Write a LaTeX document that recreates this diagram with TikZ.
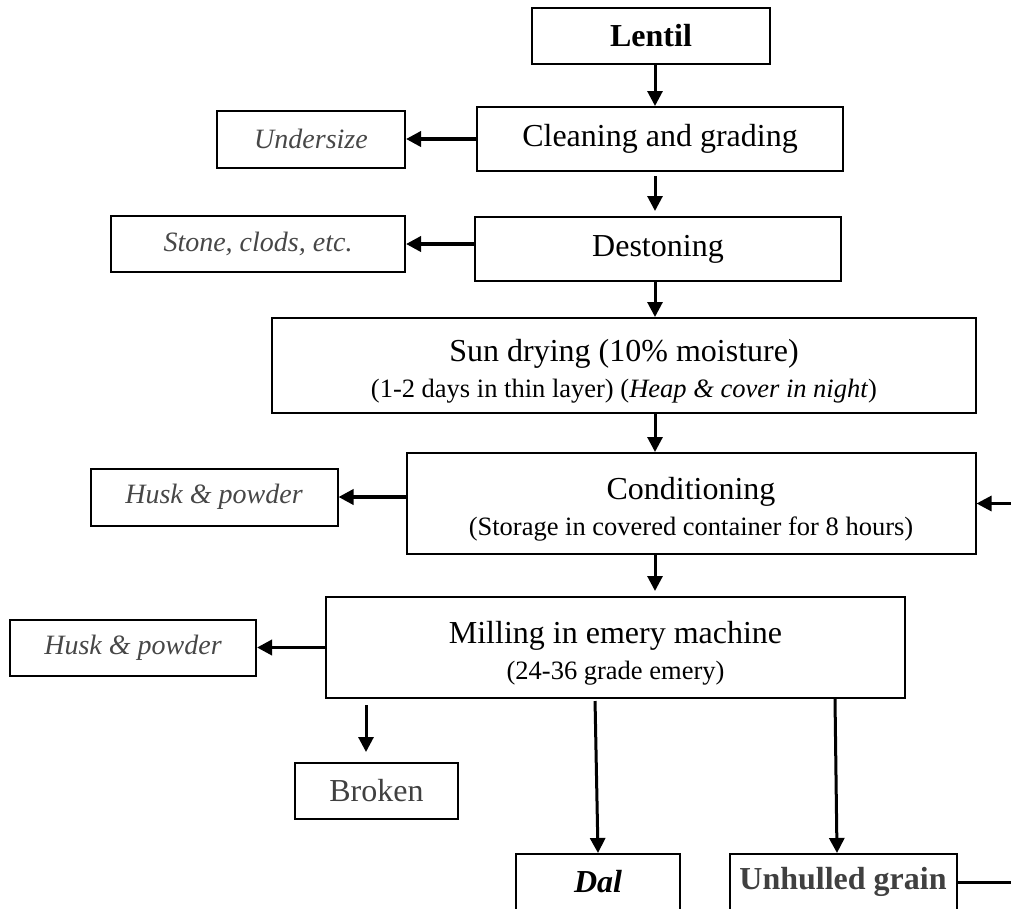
\documentclass[tikz,border=0pt]{standalone}
\usepackage{fontspec}
\setmainfont{Liberation Serif}
\usetikzlibrary{arrows.meta, positioning}
\newcommand{\mainsize}{\fontsize{32}{36}\selectfont}
\newcommand{\subsize}{\fontsize{26.5}{31}\selectfont}
\newcommand{\lowerline}{\rule{0pt}{34pt}}
\tikzset{
  box/.style = {draw, line width=2pt, inner sep=0pt, align=center,
                font=\mainsize},
  side/.style = {box, text=black!72, font=\itshape\fontsize{28}{34}\selectfont},
  link/.style = {line width=3pt, arrows={-Triangle[length=15pt, width=15pt]}},
  side link/.style = {link, line width=3.6pt},
}

\begin{document}
\begin{tikzpicture}[x=1pt, y=-1pt]
  \useasboundingbox (0,0) rectangle (1011,908);
  \clip (0,0) rectangle (1011,908);

  %% The main processing line
  \coordinate (spine) at (655,0);
  \node [box, minimum width=238pt, minimum height=56pt, font=\mainsize\bfseries]
        (lentil) at (651,36) {Lentil};
  \node [box, minimum width=366pt, minimum height=64pt]
        (clean) at (660,139) {Cleaning and grading};
  \node [box, minimum width=366pt, minimum height=64pt]
        (destone) at (658,249) {Destoning};
  \node [box, minimum width=704pt, minimum height=95pt] (sun) at (624,365.5)
        {\lowerline Sun drying (10\% moisture)\\
         {\subsize (1-2 days in thin layer) (\textit{Heap \& cover in night})}};
  \node [box, minimum width=569pt, minimum height=101pt] (cond) at (691,503.5)
        {\lowerline Conditioning\\
         {\subsize (Storage in covered container for 8 hours)}};
  \node [box, minimum width=579pt, minimum height=101pt] (mill) at (615.5,647.5)
        {\lowerline Milling in emery machine\\
         {\subsize (24-36 grade emery)}};

  %% What is taken off at each step
  \node [side, left=70pt of clean, minimum width=188pt, minimum height=57pt]
        (under) {Undersize};
  \node [side, left=68pt of destone, yshift=5pt, minimum width=294pt,
         minimum height=56pt] (stone) {Stone, clods, etc.};
  \node [side, left=67pt of cond, yshift=6.5pt, minimum width=247pt,
         minimum height=57pt] (husk1) {Husk \& powder};
  \node [side, left=68pt of mill, minimum width=246pt, minimum height=56pt]
        (husk2) {Husk \& powder};

  %% Products of the mill
  \node [box, text=black!75, minimum width=163pt, minimum height=56pt]
        (broken) at (376.5,791) {Broken};
  \node [box, minimum width=164pt, minimum height=56pt, font=\mainsize\bfseries\itshape]
        (dal) at (598,882) {Dal};
  \node [box, text=black!75, minimum width=227pt, minimum height=56pt,
         font=\mainsize\bfseries] (grain) at (843,882) {Unhulled grain};

  %% Down the main line
  \draw [link] (lentil.south -| spine) -- (clean.north -| spine);
  \draw [link, shorten <=4pt, shorten >=5pt] (clean.south -| spine) -- (destone.north -| spine);
  \draw [link] (destone.south -| spine) -- (sun.north -| spine);
  \draw [link] (sun.south -| spine) -- (cond.north -| spine);
  \draw [link, shorten >=5pt] (cond.south -| spine) -- (mill.north -| spine);

  %% Out to the side
  \draw [side link] (clean.west) -- (clean.west -| under.east);
  \draw [side link] (stone.east -| destone.west) -- (stone.east);
  \draw [side link] (husk1.east -| cond.west) -- (husk1.east);
  \draw [side link] (mill.west) -- (husk2.east);

  %% Out of the mill
  \coordinate (broken top) at ([xshift=-10.5pt] broken.north);
  \coordinate (dal top) at ([xshift=-3pt] dal.north);
  \coordinate (grain top) at ([xshift=-8pt] grain.north);
  \draw [link, shorten <=6pt, shorten >=10pt] (broken top |- mill.south) -- (broken top);
  \draw [link, shorten <=2pt] (dal top |- mill.south) -- (dal.north);
  \draw [link] (grain top |- mill.south) -- ([xshift=-6pt] grain.north);

  %% Unhulled grain goes back to conditioning
  \draw [link] (grain.east) -- ++(70,0) |- (cond.east);
\end{tikzpicture}
\end{document}
